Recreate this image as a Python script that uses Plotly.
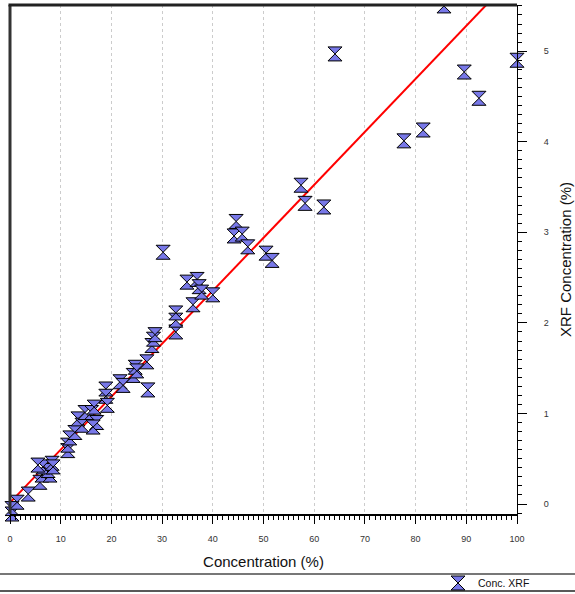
import plotly.graph_objects as go

# Measured data: Concentration (%) vs XRF Concentration (%)
conc = [0.4, 0.4, 1.4, 3.6, 5.9, 6.3, 7.9, 7.5, 6.5, 5.5, 8.3, 8.5,
        11.4, 11.4, 11.8, 12.8, 13.4, 14.2, 14.8, 16.1, 16.6, 17.1, 16.4,
        18.9, 18.9, 19.2, 21.7, 22.3, 24.3, 24.7, 25.0, 27.0, 27.2, 28.0, 28.3, 28.6,
        30.2, 32.7, 32.7, 32.7, 34.9, 36.1, 36.9, 37.3, 37.8, 40.0,
        44.2, 44.6, 45.8, 46.9, 50.5, 51.7, 57.4, 58.2, 61.9, 64.1,
        77.7, 81.5, 89.6, 92.5, 100.0]
xrf = [-0.11, -0.05, 0.02, 0.11, 0.24, 0.32, 0.32, 0.37, 0.41, 0.43, 0.45, 0.41,
       0.59, 0.65, 0.73, 0.79, 0.94, 0.87, 1.01, 1.01, 1.07, 0.90, 0.85,
       1.27, 1.19, 1.09, 1.35, 1.31, 1.42, 1.51, 1.47, 1.57, 1.26, 1.75, 1.82, 1.87,
       2.78, 1.90, 2.03, 2.11, 2.45, 2.20, 2.48, 2.40, 2.34, 2.31,
       2.96, 3.12, 2.98, 2.84, 2.77, 2.69, 3.52, 3.32, 3.28, 4.97,
       4.01, 4.13, 4.77, 4.48, 4.90]
# point at the top edge (partly clipped by the frame)
conc_top = [85.6]
xrf_top = [5.50]

# fitted line endpoints
fit_x = [0, 100]
fit_y = [0.015, 5.865]

W, H = 575, 594
L, R, T, B = 10, 58, 5, 80
pw = W - L - R
ph = H - T - B

marker = dict(symbol="hourglass", size=14, color="rgb(120,120,232)",
              line=dict(color="black", width=1))

fig = go.Figure()
fig.add_trace(go.Scatter(x=fit_x, y=fit_y, mode="lines",
                         line=dict(color="#ff0000", width=2),
                         showlegend=False, hoverinfo="skip"))
fig.add_trace(go.Scatter(x=conc_top, y=xrf_top, mode="markers", marker=marker,
                         showlegend=False, cliponaxis=True))
fig.add_trace(go.Scatter(x=conc, y=xrf, mode="markers", marker=marker,
                         name="Conc. XRF", cliponaxis=False))

fig.update_layout(
    width=W, height=H,
    margin=dict(l=L, r=R, t=T, b=B, autoexpand=False),
    paper_bgcolor="white", plot_bgcolor="white",
    font=dict(family="Liberation Sans, Arial, sans-serif", color="#222"),
    showlegend=True,
    legend=dict(x=(438 - L) / pw, y=(T + ph - 583) / ph, xanchor="left",
                yanchor="middle", orientation="h", bgcolor="rgba(0,0,0,0)",
                font=dict(size=10.5, color="#111"), itemwidth=30,
                tracegroupgap=0),
    xaxis=dict(range=[0, 100], tickmode="linear", tick0=0, dtick=10,
               showgrid=True, gridcolor="#cccccc", griddash="dot", gridwidth=1,
               zeroline=False, showline=True, linecolor="black", linewidth=2,
               ticks="outside", ticklen=8, tickcolor="black", tickwidth=1,
               minor=dict(tickmode="linear", tick0=0, dtick=1, ticks="outside",
                          ticklen=4, tickcolor="black", showgrid=False),
               tickfont=dict(size=9, color="#333"), ticklabelstandoff=7,
               title=dict(text="Concentration (%)", font=dict(size=15, color="#111"),
                          standoff=14),
               automargin=False, fixedrange=True),
    yaxis=dict(range=[-0.11, 5.51], side="right", tickmode="linear", tick0=0,
               dtick=1, showgrid=False, zeroline=False, showline=True,
               linecolor="black", linewidth=1,
               ticks="outside", ticklen=9, tickcolor="black", tickwidth=1,
               minor=dict(tickmode="linear", tick0=0, dtick=0.1, ticks="outside",
                          ticklen=4, tickcolor="black", showgrid=False),
               tickfont=dict(size=9, color="#333"), ticklabelstandoff=15,
               title=dict(text="XRF Concentration (%)",
                          font=dict(size=15, color="#111"), standoff=12),
               automargin=False, fixedrange=True),
    shapes=[
        # thick left frame
        dict(type="line", xref="paper", yref="paper", x0=0, x1=0, y0=0, y1=1,
             line=dict(color="#333", width=3)),
        # thick top frame
        dict(type="line", xref="paper", yref="paper", x0=-0.003, x1=1.0, y0=1, y1=1,
             line=dict(color="#222", width=3)),
        # legend band lines
        dict(type="line", xref="paper", yref="paper",
             x0=-L / pw, x1=(W - L) / pw,
             y0=(T + ph - 574) / ph, y1=(T + ph - 574) / ph,
             line=dict(color="#777", width=2)),
        dict(type="line", xref="paper", yref="paper",
             x0=-L / pw, x1=(W - L) / pw,
             y0=(T + ph - 591) / ph, y1=(T + ph - 591) / ph,
             line=dict(color="#222", width=1.5)),
    ],
)

fig.write_html("out.html", config={"displayModeBar": False},
               post_script="document.body.style.margin='0px';"
                           "document.body.style.overflow='hidden';")
